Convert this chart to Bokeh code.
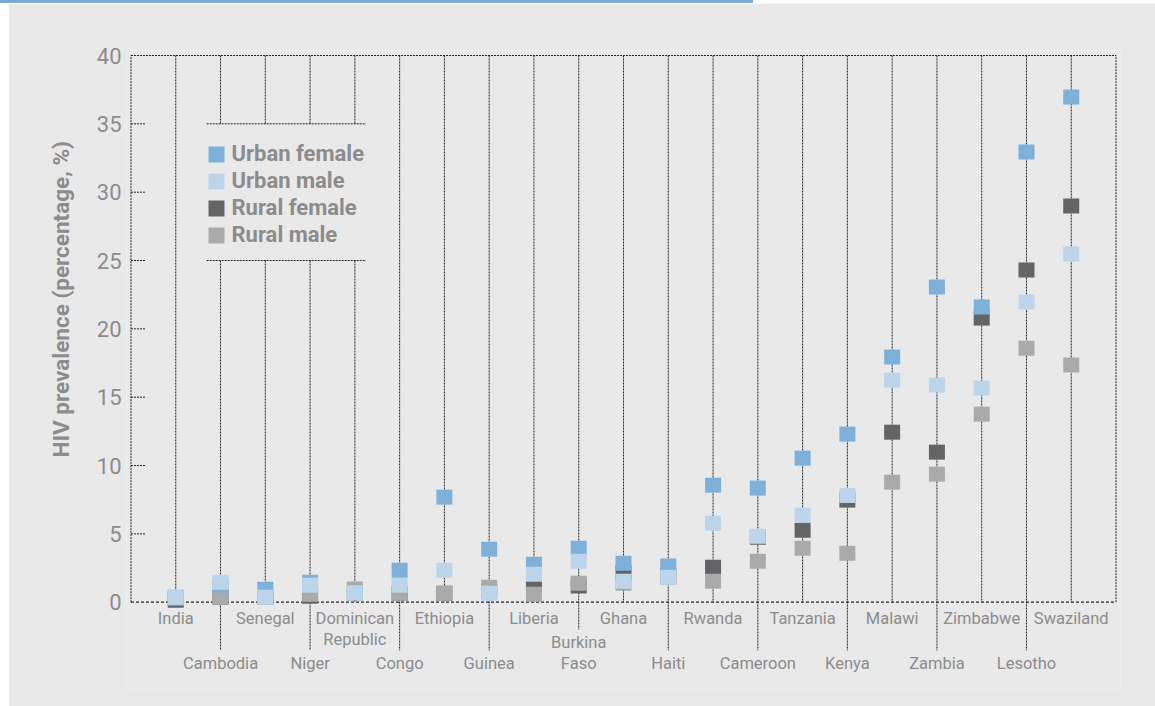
from bokeh.plotting import figure
from bokeh.layouts import column
from bokeh.models import (Range1d, LinearAxis, FixedTicker, Legend, LegendItem,
                          Title, Div)
from bokeh.core.properties import value
from bokeh.embed import file_html
from bokeh.resources import INLINE

# ---------------- data ----------------
countries = ["India", "Cambodia", "Senegal", "Niger", "Dominican\nRepublic", "Congo",
             "Ethiopia", "Guinea", "Liberia", "Burkina\nFaso", "Ghana", "Haiti",
             "Rwanda", "Cameroon", "Tanzania", "Kenya", "Malawi", "Zambia",
             "Zimbabwe", "Lesotho", "Swaziland"]
urban_female = [0.29, 1.24, 0.95, 1.46, 0.69, 2.34, 7.69, 3.88, 2.78, 3.95, 2.85,
                2.64, 8.56, 8.35, 10.54, 12.30, 17.94, 23.06, 21.60, 32.94, 36.97]
urban_male = [0.37, 1.46, 0.37, 1.24, 0.69, 1.24, 2.34, 0.66, 2.05, 3.00, 1.54,
              1.83, 5.78, 4.83, 6.37, 7.81, 16.25, 15.89, 15.67, 21.96, 25.48]
rural_female = [0.15, 0.37, 0.35, 0.44, 0.70, 0.66, 0.66, 0.80, 1.30, 1.19, 2.18,
                1.98, 2.56, 4.76, 5.27, 7.47, 12.44, 10.98, 20.79, 24.30, 28.99]
rural_male = [0.37, 0.37, 0.35, 0.59, 0.97, 0.66, 0.66, 1.10, 0.59, 1.39, 1.39,
              1.83, 1.54, 3.00, 3.95, 3.59, 8.78, 9.37, 13.76, 18.59, 17.35]
y_ticks = [0, 5, 10, 15, 20, 25, 30, 35, 40]
series_names = ["Urban female", "Urban male", "Rural female", "Rural male"]
y_title = "HIV prevalence (percentage, %)"

# ---------------- style ----------------
BG = "#e9e9e9"
C_UF, C_UM, C_RF, C_RM = "#7db1d9", "#bcd5ea", "#646466", "#a9aaac"
TXT = "#8c8c8c"
LINE = "#222222"
FONT = "Roboto"

n = len(countries)
xs = list(range(1, n + 1))
ymax = y_ticks[-1]

p = figure(width=1147, height=703,
           x_range=Range1d(-0.1, n + 1.1), y_range=Range1d(-6.46, ymax + 0.366),
           x_axis_location=None, y_axis_location=None,
           toolbar_location=None, output_backend="svg",
           min_border_left=118, min_border_right=35, min_border_top=47, min_border_bottom=16,
           background_fill_color=BG, border_fill_color=BG, outline_line_color=None)
p.margin = (0, 0, 0, 8)
p.xgrid.visible = False
p.ygrid.visible = False

ax = LinearAxis(ticker=FixedTicker(ticks=y_ticks), axis_line_color=None,
                major_tick_line_color=None, minor_tick_line_color=None,
                major_tick_out=0, major_tick_in=0,
                major_label_text_font=FONT, major_label_text_font_size="22px",
                major_label_text_color=TXT, major_label_standoff=5)
p.add_layout(ax, "left")
p.add_layout(Title(text=y_title, align="left", offset=233, standoff=40,
                   text_font=FONT, text_font_style="bold", text_font_size="22.5px",
                   text_color=TXT), "left")

# ---------------- dotted frame / leader lines ----------------
px_per_unit = 13.667
legend_x0, legend_x1 = 1.69, 5.25
legend_y_top, legend_y_bot = 35, 25
leader_single = -3.53
line_step = 21 / px_per_unit

x0s, y0s, x1s, y1s = [], [], [], []
for i, name in enumerate(countries):
    x = xs[i]
    nlines = name.count("\n") + 1
    bottom = 0 if i % 2 == 0 else leader_single + (nlines - 1) * line_step
    if legend_x0 < x < legend_x1:
        x0s += [x, x]; y0s += [ymax, legend_y_bot]
        x1s += [x, x]; y1s += [legend_y_top, bottom]
    else:
        x0s.append(x); y0s.append(ymax); x1s.append(x); y1s.append(bottom)
# frame borders
x0s += [0, 0, n + 1]; y0s += [ymax, 0, 0]
x1s += [n + 1, 0, n + 1]; y1s += [ymax, ymax, ymax]
# legend box lines
x0s += [legend_x0, legend_x0]; y0s += [legend_y_top, legend_y_bot]
x1s += [legend_x1, legend_x1]; y1s += [legend_y_top, legend_y_bot]
# tick stubs
stub = 14 / 44.77
for t in y_ticks[1:-1]:
    x0s.append(0); y0s.append(t); x1s.append(stub); y1s.append(t)

p.segment(x0=x0s, y0=y0s, x1=x1s, y1=y1s, line_color=LINE, line_width=1,
          line_dash="2 1")
p.segment(x0=[0], y0=[0], x1=[n + 1], y1=[0], line_color=LINE, line_width=1.2,
          line_dash="3 2")

# ---------------- markers ----------------
def sq(vals, color):
    return p.rect(x=xs, y=vals, width=16, height=15, width_units="screen",
                  height_units="screen", fill_color=color, line_color=None)

r_rf = sq(rural_female, C_RF)
r_rm = sq(rural_male, C_RM)
r_uf = sq(urban_female, C_UF)
r_um = sq(urban_male, C_UM)

legend = Legend(items=[LegendItem(label=series_names[0], renderers=[r_uf]),
                       LegendItem(label=series_names[1], renderers=[r_um]),
                       LegendItem(label=series_names[2], renderers=[r_rf]),
                       LegendItem(label=series_names[3], renderers=[r_rm])],
                location=(79.5, 443), orientation="vertical",
                background_fill_alpha=0, border_line_color=None,
                padding=0, margin=0, spacing=2, glyph_width=20, glyph_height=20,
                label_height=20, label_standoff=6, label_text_font=FONT,
                label_text_font_style="bold", label_text_font_size="22px",
                label_text_color=TXT)
p.add_layout(legend)

# ---------------- country labels ----------------
row1 = [i for i in range(n) if i % 2 == 0]
row2 = [i for i in range(n) if i % 2 == 1]
p.text(x=[xs[i] for i in row1], y=[-0.48] * len(row1), text=[countries[i] for i in row1],
       text_align="center", text_baseline="top", text_font=value(FONT),
       text_font_size="16.5px", text_color=TXT, text_line_height=1.1)
p.text(x=[xs[i] for i in row2], y=[-5.19] * len(row2), text=[countries[i] for i in row2],
       text_align="center", text_baseline="bottom", text_font=value(FONT),
       text_font_size="16.5px", text_color=TXT, text_line_height=1.1)

# ---------------- top bar ----------------
bar = Div(text="", width=753, height=3, margin=(0, 0, 0, 0),
          styles={"background-color": "#7ea9d4"})

page = column(bar, p, spacing=0)
open("out.html", "w").write(file_html(page, INLINE))
